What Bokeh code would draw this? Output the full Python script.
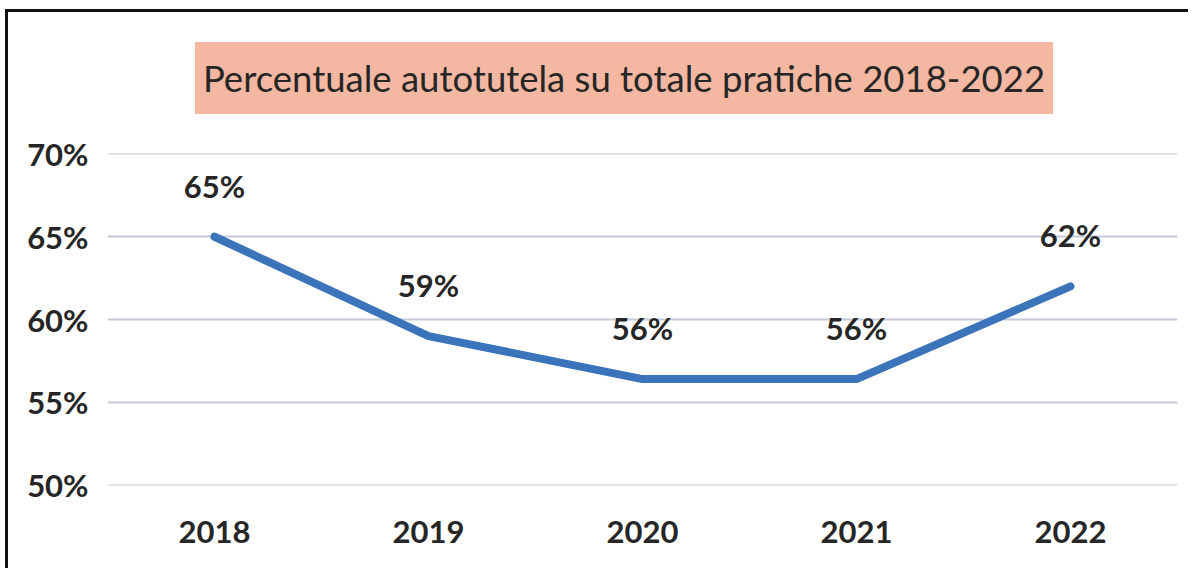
from bokeh.plotting import figure
from bokeh.models import Range1d, FixedTicker, PrintfTickFormatter, ColumnDataSource, Div
from bokeh.layouts import column
from bokeh.core.properties import value
from bokeh.embed import file_html
from bokeh.resources import INLINE

years = ["2018", "2019", "2020", "2021", "2022"]
percent = [65.0, 59.0, 56.4, 56.4, 62.0]
point_labels = ["65%", "59%", "56%", "56%", "62%"]
y_ticks = [50, 55, 60, 65, 70]
title_text = "Percentuale autotutela su totale pratiche 2018-2022"

FONT = "Lato"
TXT = "#262626"

title_html = (
    '<div style="position:absolute; left:187px; top:30px; width:858px; height:72px; '
    'background:#f3b7a2; display:flex; align-items:center; justify-content:center; '
    f'font-family:{FONT}; font-size:36.5px; color:{TXT}; white-space:nowrap;">'
    f'{title_text}</div>'
)
head = Div(text=title_html, width=1180, height=121,
           styles={"position": "relative", "margin": "0", "padding": "0"})

p = figure(width=1180, height=435, x_range=years, y_range=Range1d(49.97, 70.03),
           output_backend="svg", toolbar_location=None,
           min_border_left=99, min_border_right=11, min_border_top=20, min_border_bottom=83)
p.outline_line_color = None
p.background_fill_color = "white"
p.border_fill_color = "white"
p.x_range.range_padding = 0

p.xgrid.grid_line_color = None
p.ygrid.grid_line_color = "#c4c9d6"
p.ygrid.grid_line_width = 2

p.yaxis.ticker = FixedTicker(ticks=y_ticks)
p.yaxis.formatter = PrintfTickFormatter(format="%d%%")
for ax in (p.xaxis, p.yaxis):
    ax.axis_line_color = None
    ax.major_tick_line_color = None
    ax.minor_tick_line_color = None
    ax.major_tick_in = 0
    ax.major_tick_out = 0
    ax.major_label_text_font = FONT
    ax.major_label_text_font_style = "bold"
    ax.major_label_text_font_size = "31px"
    ax.major_label_text_color = TXT
p.yaxis.major_label_standoff = 19
p.xaxis.major_label_standoff = 35

src = ColumnDataSource(dict(x=years, y=percent, lab=point_labels))
p.line("x", "y", source=src, line_color="#3b74ba", line_width=8,
       line_join="round", line_cap="round")
p.text("x", "y", text="lab", source=src, text_align="center", text_baseline="middle",
       y_offset=-51, text_font=value(FONT), text_font_style="bold",
       text_font_size="31px", text_color=TXT)

layout = column(head, p, spacing=0,
                styles={"border-top": "3px solid #111111", "border-left": "3px solid #111111",
                        "margin-left": "5px", "margin-top": "9px", "background": "white"})

open("out.html", "w").write(file_html(layout, INLINE))
